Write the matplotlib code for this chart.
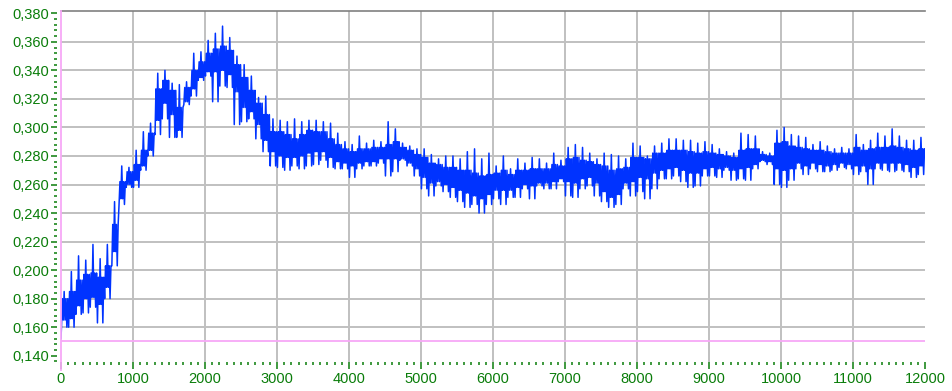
import numpy as np
import matplotlib
matplotlib.use("Agg")
import matplotlib.pyplot as plt
from matplotlib.ticker import MultipleLocator, FuncFormatter

# for every 100-unit step:
# the edges of the dense core band and the low / high spike tips
STEP = 100
START_VALUE = 0.152
LIMIT_LINE = 0.150

lo = [0.160, 0.160, 0.169, 0.170, 0.174, 0.163, 0.180, 0.203, 0.246, 0.258,
      0.258, 0.270, 0.280, 0.295, 0.306, 0.293, 0.293, 0.316, 0.322, 0.333,
      0.336, 0.318, 0.329, 0.328, 0.302, 0.304, 0.306, 0.292, 0.283, 0.273,
      0.272, 0.270, 0.273, 0.271, 0.273, 0.274, 0.277, 0.272, 0.271, 0.271,
      0.265, 0.271, 0.273, 0.273, 0.275, 0.266, 0.269, 0.277, 0.273, 0.266,
      0.257, 0.252, 0.259, 0.255, 0.251, 0.248, 0.244, 0.246, 0.240, 0.246,
      0.250, 0.246, 0.251, 0.251, 0.257, 0.250, 0.259, 0.257, 0.257, 0.262,
      0.252, 0.251, 0.257, 0.259, 0.252, 0.248, 0.244, 0.246, 0.257, 0.252,
      0.255, 0.250, 0.257, 0.264, 0.264, 0.266, 0.262, 0.258, 0.259, 0.266,
      0.266, 0.265, 0.270, 0.263, 0.264, 0.263, 0.271, 0.276, 0.274, 0.260,
      0.258, 0.263, 0.271, 0.267, 0.271, 0.269, 0.269, 0.270, 0.272, 0.271,
      0.267, 0.269, 0.260, 0.271, 0.270, 0.269, 0.270, 0.269, 0.265, 0.267]

core_lo = [0.165, 0.166, 0.175, 0.180, 0.181, 0.176, 0.188, 0.213, 0.250, 0.260,
           0.263, 0.273, 0.284, 0.305, 0.317, 0.309, 0.298, 0.318, 0.327, 0.335,
           0.339, 0.339, 0.340, 0.337, 0.325, 0.314, 0.311, 0.302, 0.291, 0.283,
           0.280, 0.279, 0.279, 0.280, 0.282, 0.283, 0.283, 0.279, 0.276, 0.275,
           0.273, 0.275, 0.276, 0.276, 0.278, 0.278, 0.278, 0.278, 0.275, 0.271,
           0.265, 0.261, 0.262, 0.260, 0.258, 0.256, 0.254, 0.252, 0.250, 0.253,
           0.256, 0.256, 0.256, 0.258, 0.260, 0.259, 0.261, 0.261, 0.262, 0.264,
           0.262, 0.261, 0.264, 0.265, 0.261, 0.255, 0.251, 0.253, 0.261, 0.262,
           0.265, 0.264, 0.268, 0.270, 0.271, 0.272, 0.270, 0.268, 0.268, 0.271,
           0.272, 0.271, 0.272, 0.270, 0.271, 0.272, 0.274, 0.277, 0.276, 0.271,
           0.270, 0.271, 0.275, 0.273, 0.275, 0.274, 0.273, 0.274, 0.275, 0.274,
           0.273, 0.273, 0.271, 0.275, 0.275, 0.275, 0.275, 0.274, 0.272, 0.273]

core_hi = [0.180, 0.185, 0.193, 0.197, 0.198, 0.195, 0.203, 0.232, 0.262, 0.269,
           0.274, 0.284, 0.296, 0.327, 0.333, 0.326, 0.314, 0.328, 0.340, 0.346,
           0.352, 0.355, 0.357, 0.354, 0.344, 0.335, 0.326, 0.317, 0.309, 0.297,
           0.297, 0.295, 0.292, 0.295, 0.298, 0.297, 0.297, 0.292, 0.288, 0.285,
           0.283, 0.285, 0.285, 0.286, 0.286, 0.288, 0.290, 0.286, 0.284, 0.281,
           0.279, 0.275, 0.274, 0.272, 0.272, 0.270, 0.270, 0.268, 0.266, 0.267,
           0.268, 0.270, 0.267, 0.270, 0.270, 0.271, 0.271, 0.271, 0.274, 0.273,
           0.278, 0.279, 0.277, 0.276, 0.274, 0.273, 0.270, 0.271, 0.272, 0.279,
           0.279, 0.278, 0.282, 0.282, 0.284, 0.284, 0.284, 0.283, 0.282, 0.283,
           0.282, 0.281, 0.280, 0.279, 0.284, 0.285, 0.285, 0.281, 0.280, 0.289,
           0.290, 0.287, 0.286, 0.285, 0.284, 0.284, 0.283, 0.282, 0.282, 0.282,
           0.286, 0.284, 0.285, 0.286, 0.286, 0.287, 0.286, 0.285, 0.284, 0.285]

hi = [0.185, 0.199, 0.210, 0.207, 0.218, 0.208, 0.218, 0.248, 0.273, 0.272,
      0.284, 0.297, 0.303, 0.338, 0.340, 0.331, 0.330, 0.332, 0.352, 0.353,
      0.361, 0.366, 0.371, 0.363, 0.350, 0.344, 0.336, 0.321, 0.322, 0.306,
      0.305, 0.304, 0.306, 0.304, 0.305, 0.305, 0.304, 0.303, 0.296, 0.290,
      0.288, 0.294, 0.289, 0.291, 0.290, 0.304, 0.299, 0.289, 0.287, 0.285,
      0.285, 0.281, 0.278, 0.280, 0.280, 0.278, 0.283, 0.285, 0.278, 0.282,
      0.273, 0.280, 0.271, 0.278, 0.275, 0.279, 0.278, 0.275, 0.282, 0.277,
      0.286, 0.288, 0.286, 0.282, 0.278, 0.282, 0.281, 0.280, 0.278, 0.289,
      0.287, 0.280, 0.287, 0.289, 0.292, 0.292, 0.291, 0.291, 0.289, 0.290,
      0.288, 0.285, 0.283, 0.282, 0.296, 0.295, 0.294, 0.283, 0.282, 0.298,
      0.300, 0.295, 0.294, 0.293, 0.288, 0.290, 0.287, 0.285, 0.286, 0.285,
      0.295, 0.288, 0.291, 0.296, 0.294, 0.299, 0.294, 0.291, 0.291, 0.293]

GREEN = '#0a7d0a'
PINK = '#f7a8f7'
BLUE = '#0033ff'

# eight samples per step: core band swings mixed with the spike tips
starts = np.arange(len(lo)) * STEP
offsets = (np.arange(8) + 0.5) * STEP / 8
xs = np.concatenate([[0], (starts[:, None] + offsets[None, :]).ravel()])
ys = np.concatenate([[START_VALUE],
                     np.column_stack([lo, core_hi, core_lo, hi,
                                      core_lo, core_hi, lo, core_hi]).ravel()])

fig = plt.figure(figsize=(9.53, 3.91), dpi=100)
ax = fig.add_axes([61 / 953, 1 - 362 / 391, 864 / 953, 351 / 391])
ax.set_xlim(0, 12000)
ax.set_ylim(0.1356, 0.3816)

ax.plot(xs, ys, color=BLUE, lw=1.1, zorder=3)
ax.axhline(LIMIT_LINE, color=PINK, lw=1.3, zorder=2)
ax.plot([0, 0], [-0.023, 1], color=PINK, lw=1.3, transform=ax.transAxes,
        clip_on=False, zorder=4)

# grid by hand: no line at 0.14 and none at the right edge
for yv in np.arange(0.16, 0.37, 0.02):
    ax.axhline(yv, color='#c0c0c0', lw=1.4, zorder=1)
for xv in range(1000, 12000, 1000):
    ax.axvline(xv, color='#c0c0c0', lw=1.4, zorder=1)

for side in ('right', 'bottom', 'left'):
    ax.spines[side].set_visible(False)
ax.spines['top'].set_color('#808080')
ax.spines['top'].set_linewidth(1.2)
ax.spines['left'].set_position(('outward', 3))

ax.xaxis.set_major_locator(MultipleLocator(1000))
ax.xaxis.set_minor_locator(MultipleLocator(100))
ax.yaxis.set_major_locator(MultipleLocator(0.02))
ax.yaxis.set_minor_locator(MultipleLocator(0.004))
ax.yaxis.set_major_formatter(FuncFormatter(lambda v, p: f"{v:.3f}".replace('.', ',')))
ax.xaxis.set_major_formatter(FuncFormatter(lambda v, p: f"{int(round(v))}"))

ax.tick_params(axis='both', which='both', direction='out', color=GREEN,
               labelcolor=GREEN, width=1.1)
ax.tick_params(axis='y', which='major', length=4, pad=1.5)
ax.tick_params(axis='y', which='minor', length=2.2)
ax.tick_params(axis='x', which='major', length=4.8, pad=2.5)
ax.tick_params(axis='x', which='minor', length=2.4)
for lab in ax.get_xticklabels() + ax.get_yticklabels():
    lab.set_fontfamily('Liberation Sans')
    lab.set_fontsize(10.5)

fig.savefig('out.png', dpi=100)
